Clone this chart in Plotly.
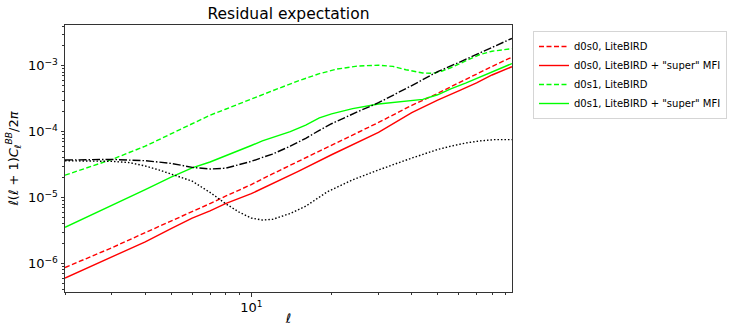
import plotly.graph_objects as go

# ---------------- data ----------------
ell_red = [2, 3, 4, 5, 6, 7, 8, 10, 12, 15, 20, 25, 30, 40, 50, 60, 70, 80, 95]
d0s0_litebird = [8.71e-7, 1.74e-6, 2.95e-6, 4.37e-6, 6.17e-6, 8.13e-6, 1.05e-5, 1.58e-5,
                 2.29e-5, 3.55e-5, 6.31e-5, 9.77e-5, 1.38e-4, 2.51e-4, 3.80e-4, 5.50e-4,
                 7.59e-4, 9.77e-4, 1.35e-3]
d0s0_super = [6.03e-7, 1.26e-6, 2.14e-6, 3.39e-6, 4.90e-6, 6.31e-6, 8.13e-6, 1.15e-5,
              1.62e-5, 2.51e-5, 4.47e-5, 6.92e-5, 9.77e-5, 1.95e-4, 3.02e-4, 4.17e-4,
              5.50e-4, 7.24e-4, 9.66e-4]

ell_gd = [2, 2.5, 3, 4, 5, 6, 7, 8, 10, 12, 15, 18, 21, 25, 30, 34, 38, 44, 48, 52, 56,
          64, 72, 80, 88, 95]
d0s1_litebird = [2.19e-5, 2.95e-5, 3.80e-5, 6.03e-5, 9.33e-5, 1.35e-4, 1.78e-4, 2.19e-4,
                 3.16e-4, 4.17e-4, 5.89e-4, 7.59e-4, 8.91e-4, 9.89e-4, 1.02e-3, 9.77e-4,
                 8.71e-4, 7.76e-4, 7.67e-4, 8.32e-4, 9.33e-4, 1.20e-3, 1.48e-3, 1.66e-3,
                 1.74e-3, 1.82e-3]

ell_gs = [2, 3, 4, 5, 6, 7, 8, 9, 10, 11, 12, 14, 16, 18, 20, 24, 30, 37, 44, 50, 56,
          64, 72, 82, 95]
d0s1_super = [3.55e-6, 7.59e-6, 1.32e-5, 2.04e-5, 2.82e-5, 3.47e-5, 4.27e-5, 5.13e-5,
              6.17e-5, 7.24e-5, 8.13e-5, 1.00e-4, 1.26e-4, 1.62e-4, 1.86e-4, 2.24e-4,
              2.63e-4, 2.85e-4, 3.09e-4, 3.63e-4, 4.47e-4, 5.50e-4, 6.76e-4, 8.51e-4,
              1.08e-3]

ell_bk = [2, 3, 4, 5, 6, 7, 8, 9, 10, 11, 12, 14, 16, 18, 20, 25, 30, 40, 50, 60, 72,
          82, 95]
black_dashdot = [3.72e-5, 3.80e-5, 3.63e-5, 3.31e-5, 2.88e-5, 2.72e-5, 2.79e-5, 3.16e-5,
                 3.55e-5, 4.07e-5, 4.57e-5, 6.03e-5, 7.94e-5, 1.05e-4, 1.32e-4, 2.00e-4,
                 2.75e-4, 5.01e-4, 8.13e-4, 1.12e-3, 1.55e-3, 2.00e-3, 2.60e-3]

ell_dot = [2, 3, 3.5, 4, 4.5, 5, 5.5, 6, 6.5, 7, 8, 9, 10, 11, 12, 14, 16, 19.3, 24, 30,
           40, 50, 56, 64, 72, 82, 95]
black_dotted = [3.63e-5, 3.55e-5, 3.39e-5, 3.02e-5, 2.63e-5, 2.29e-5, 2.04e-5, 1.78e-5,
                1.45e-5, 1.20e-5, 8.13e-6, 6.03e-6, 4.90e-6, 4.57e-6, 4.68e-6, 5.75e-6,
                7.41e-6, 1.23e-5, 1.86e-5, 2.63e-5, 3.98e-5, 5.37e-5, 6.03e-5, 6.76e-5,
                7.24e-5, 7.59e-5, 7.59e-5]

x_major = [10]
x_major_text = ["10<sup>1</sup>"]
x_minor = [2, 3, 4, 5, 6, 7, 8, 9, 20, 30, 40, 50, 60, 70, 80, 90]
y_major = [1e-6, 1e-5, 1e-4, 1e-3]
y_major_text = ["10<sup>\u22126</sup>", "10<sup>\u22125</sup>",
                "10<sup>\u22124</sup>", "10<sup>\u22123</sup>"]
y_minor = [m * 10 ** e for e in range(-7, -2) for m in range(2, 10)]

FONT = "DejaVu Sans"
RED = "#ff0000"
GREEN = "#00ff00"
LW = 1.4

fig = go.Figure()
fig.add_trace(go.Scatter(x=ell_red, y=d0s0_litebird, mode="lines", name="d0s0, LiteBIRD",
                         line=dict(color=RED, width=LW, dash="5px,2.5px")))
fig.add_trace(go.Scatter(x=ell_red, y=d0s0_super, mode="lines",
                         name="d0s0, LiteBIRD + \"super\" MFI",
                         line=dict(color=RED, width=LW)))
fig.add_trace(go.Scatter(x=ell_gd, y=d0s1_litebird, mode="lines", name="d0s1, LiteBIRD",
                         line=dict(color=GREEN, width=LW, dash="5px,2.5px")))
fig.add_trace(go.Scatter(x=ell_gs, y=d0s1_super, mode="lines",
                         name="d0s1, LiteBIRD + \"super\" MFI",
                         line=dict(color=GREEN, width=LW)))
fig.add_trace(go.Scatter(x=ell_bk, y=black_dashdot, mode="lines", showlegend=False,
                         line=dict(color="black", width=LW, dash="8px,2px,1.5px,2px")))
fig.add_trace(go.Scatter(x=ell_dot, y=black_dotted, mode="lines", showlegend=False,
                         line=dict(color="black", width=LW, dash="1.5px,2px")))

axis_common = dict(showgrid=False, zeroline=False, showline=True, linecolor="#333",
                   linewidth=1, mirror=True, ticks="outside", ticklen=3.5, tickwidth=1,
                   tickcolor="#333", automargin=False,
                   tickfont=dict(family=FONT, size=13, color="black"))

fig.update_xaxes(type="log", range=[0.301, 1.978], tickvals=x_major, ticktext=x_major_text,
                 minor=dict(tickvals=x_minor, ticks="outside", ticklen=2, tickcolor="#333"),
                 title=dict(text="<i>ℓ</i>", font=dict(family=FONT, size=13, color="black"),
                            standoff=7),
                 **axis_common)
fig.update_yaxes(type="log", range=[-6.431, -2.382], tickvals=y_major, ticktext=y_major_text,
                 minor=dict(tickvals=y_minor, ticks="outside", ticklen=2, tickcolor="#333"),
                 title=dict(text="<i>ℓ</i>(<i>ℓ</i> + 1)<i>C</i><sub><i>ℓ</i></sub>"
                                 "<sup><i>BB</i></sup>/2<i>π</i>",
                            font=dict(family=FONT, size=13, color="black"), standoff=6),
                 **axis_common)

fig.update_layout(
    width=730, height=326,
    margin=dict(l=65, r=218, t=25, b=34, pad=0, autoexpand=False),
    paper_bgcolor="white", plot_bgcolor="white",
    font=dict(family=FONT, color="black"),
    title=dict(text="Residual expectation", x=0.5, xref="paper", xanchor="center",
               y=1 - 14 / 326, yref="container", yanchor="middle",
               font=dict(family=FONT, size=15.5, color="black")),
    legend=dict(x=533 / 730, y=1 - 31 / 326, xref="container", yref="container",
                xanchor="left", yanchor="top",
                bgcolor="white", bordercolor="#d5d5d5", borderwidth=1,
                font=dict(family=FONT, size=10, color="black"),
                tracegroupgap=0),
)

fig.write_html("out.html")
